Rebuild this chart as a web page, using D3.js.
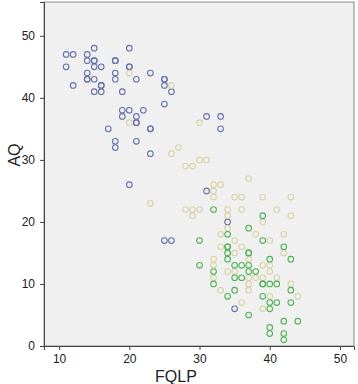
<!DOCTYPE html>
<html>
<head>
<meta charset="utf-8">
<script src="https://cdn.jsdelivr.net/npm/d3@7"></script>
<style>
  body { margin: 0; background: #fff; }
  text { font-family: "Liberation Sans", Arial, sans-serif; fill: #222; }
</style>
</head>
<body>
<script>
const width = 358
const height = 384

// points, [FQLP, AQ]; repeated pairs are overlapping markers
const bluePoints = [
  [11,47],[12,47],[11,45],[12,42],[14,47],[15,48],[14,46],[15,46],[15,46],[15,45],[16,45],
  [14,44],[14,43],[14,43],[15,43],[16,42],[16,42],[15,41],[16,41],[18,46],[18,46],[18,44],
  [18,43],[19,41],[20,48],[20,45],[20,45],[21,43],[23,44],[25,43],[25,43],[25,42],[26,41],
  [25,39],[19,38],[20,38],[22,38],[19,37],[21,37],[21,36],[21,36],[17,35],[23,35],[23,35],
  [18,33],[18,32],[21,33],[23,31],[20,26],[31,37],[33,37],[33,35],[31,25],[34,20],[25,17],
  [26,17],[35,6]
]
const beigePoints = [
  [20,44],[26,42],[20,36],[26,31],[27,32],[30,36],[28,29],[29,29],[30,30],[31,30],[37,27],
  [32,26],[33,26],[32,25],[32,24],[35,24],[36,24],[39,24],[43,24],[23,23],[28,22],[29,22],
  [30,22],[29,21],[34,22],[34,21],[36,22],[39,20],[41,22],[43,21],[34,19],[33,18],[38,18],
  [42,18],[35,17],[40,17],[33,16],[36,16],[42,15],[35,15],[32,14],[37,14],[32,13],[39,13],
  [40,13],[34,12],[35,12],[40,12],[32,11],[37,11],[38,11],[39,11],[41,11],[37,10],[43,10],
  [33,9],[37,9],[40,8],[44,8],[36,7],[39,6]
]
const greenPoints = [
  [32,22],[39,21],[37,19],[34,18],[39,17],[30,17],[34,16],[34,16],[42,16],[34,15],[37,15],
  [37,15],[34,14],[40,14],[43,14],[30,13],[35,13],[36,13],[37,13],[32,12],[37,12],[38,12],
  [35,11],[36,11],[32,10],[39,10],[39,10],[40,10],[41,10],[35,9],[43,9],[34,8],[39,8],
  [40,7],[41,7],[43,7],[40,6],[37,5],[42,4],[44,4],[40,3],[40,2],[42,2],[42,1]
]

const xTicks = [10, 20, 30, 40, 50]
const yTicks = [0, 10, 20, 30, 40, 50]

const groups = [
  { pts: bluePoints, color: '#6672ac' },
  { pts: beigePoints, color: '#d9d3a6' },
  { pts: greenPoints, color: '#4fb356' }
]

const x = d3.scaleLinear().domain([7.85, 52]).range([44, 354])
const y = d3.scaleLinear().domain([0, 55.45]).range([346, 2])

const svg = d3.select('body').append('svg')
  .attr('width', width)
  .attr('height', height)

// plot background and frame
svg.append('rect')
  .attr('x', x.range()[0]).attr('y', y.range()[1])
  .attr('width', x.range()[1] - x.range()[0])
  .attr('height', y.range()[0] - y.range()[1])
  .attr('fill', '#f0f0f0')
  .attr('stroke', '#8a8a8a')
  .attr('stroke-width', 1)

const gx = svg.append('g')
  .attr('transform', `translate(0,${y.range()[0]})`)
  .call(d3.axisBottom(x).tickValues(xTicks).tickSizeOuter(0).tickSize(4).tickPadding(4))
const gy = svg.append('g')
  .attr('transform', `translate(${x.range()[0]},0)`)
  .call(d3.axisLeft(y).tickValues(yTicks).tickSizeOuter(0).tickSize(4).tickPadding(5))

for (const g of [gx, gy]) {
  g.selectAll('path, line').attr('stroke', '#444')
  g.selectAll('text').attr('font-size', 12).attr('fill', '#222')
    .attr('font-family', '"Liberation Sans", Arial, sans-serif')
}

// markers
groups.forEach(grp => {
  svg.append('g').selectAll('circle')
    .data(grp.pts)
    .enter().append('circle')
    .attr('cx', d => x(d[0]))
    .attr('cy', d => y(d[1]))
    .attr('r', 2.8)
    .attr('fill', 'none')
    .attr('stroke', grp.color)
    .attr('stroke-width', 1.1)
})

svg.append('text')
  .attr('x', 176)
  .attr('y', 382)
  .attr('text-anchor', 'middle')
  .attr('font-size', 16)
  .text('FQLP')

svg.append('text')
  .attr('transform', 'translate(20,155) rotate(-90)')
  .attr('text-anchor', 'middle')
  .attr('font-size', 16)
  .text('AQ')
</script>
</body>
</html>
